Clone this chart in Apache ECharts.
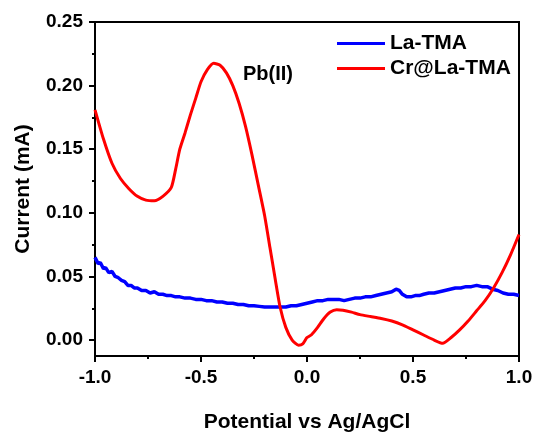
<!DOCTYPE html>
<html><head><meta charset="utf-8">
<script src="https://cdn.jsdelivr.net/npm/echarts@6/dist/echarts.min.js"></script>
<style>html,body{margin:0;padding:0;background:#fff}#c{width:534px;height:432px}</style>
</head><body><div id="c"></div>
<script>
const seriesNames = ['La-TMA', 'Cr@La-TMA'];
const yMajorTicks = [0, 0.05, 0.10, 0.15, 0.20, 0.25];
const yMinorTicks = [0.025, 0.075, 0.125, 0.175, 0.225];
const blueX = [-1.000,-0.985,-0.975,-0.960,-0.950,-0.935,-0.920,-0.905,-0.890,-0.875,-0.860,-0.845,-0.830,-0.815,-0.800,-0.780,-0.760,-0.740,-0.720,-0.700,-0.680,-0.660,-0.640,-0.620,-0.600,-0.575,-0.550,-0.525,-0.500,-0.475,-0.450,-0.425,-0.400,-0.375,-0.350,-0.325,-0.300,-0.275,-0.250,-0.225,-0.200,-0.175,-0.150,-0.125,-0.100,-0.075,-0.050,-0.025,0.000,0.025,0.050,0.075,0.100,0.125,0.150,0.175,0.200,0.225,0.250,0.275,0.300,0.325,0.350,0.375,0.400,0.420,0.435,0.450,0.470,0.490,0.510,0.530,0.550,0.575,0.600,0.625,0.650,0.675,0.700,0.725,0.750,0.775,0.800,0.825,0.850,0.875,0.900,0.925,0.950,0.975,1.000];
const blueY = [0.065,0.060,0.061,0.056,0.057,0.053,0.054,0.050,0.049,0.047,0.046,0.043,0.043,0.041,0.041,0.039,0.039,0.037,0.038,0.036,0.036,0.035,0.035,0.034,0.034,0.033,0.033,0.032,0.032,0.031,0.031,0.030,0.030,0.029,0.029,0.028,0.028,0.027,0.027,0.0265,0.026,0.026,0.026,0.026,0.026,0.027,0.027,0.028,0.029,0.030,0.031,0.031,0.032,0.032,0.032,0.031,0.032,0.033,0.033,0.034,0.034,0.035,0.036,0.037,0.038,0.040,0.039,0.036,0.034,0.034,0.035,0.035,0.036,0.037,0.037,0.038,0.039,0.040,0.041,0.041,0.042,0.042,0.043,0.042,0.042,0.040,0.039,0.037,0.036,0.036,0.035];
const redX = [-1.00,-0.96,-0.92,-0.88,-0.84,-0.80,-0.76,-0.72,-0.68,-0.64,-0.62,-0.60,-0.575,-0.55,-0.525,-0.50,-0.47,-0.44,-0.41,-0.38,-0.35,-0.32,-0.29,-0.26,-0.23,-0.20,-0.175,-0.15,-0.127,-0.10,-0.07,-0.04,-0.02,0.00,0.02,0.05,0.08,0.11,0.14,0.17,0.21,0.25,0.30,0.35,0.40,0.45,0.50,0.55,0.60,0.64,0.68,0.72,0.76,0.80,0.84,0.88,0.92,0.96,1.00];
const redY = [0.181,0.158,0.139,0.127,0.119,0.113,0.110,0.1095,0.113,0.120,0.134,0.150,0.163,0.177,0.190,0.203,0.2125,0.2175,0.216,0.210,0.200,0.186,0.168,0.146,0.122,0.098,0.073,0.048,0.026,0.010,0.000,-0.004,-0.003,0.002,0.004,0.010,0.017,0.022,0.0238,0.0235,0.022,0.020,0.0185,0.017,0.015,0.012,0.008,0.004,0.000,-0.0025,0.002,0.008,0.015,0.023,0.031,0.041,0.053,0.067,0.083];

const zip = (xs, ys) => xs.map((x, i) => [x, ys[i]]);
const font = 'Liberation Sans, Arial, sans-serif';
const chart = echarts.init(document.getElementById('c'));
chart.setOption({
  animation: false,
  backgroundColor: '#fff',
  grid: { left: 95, right: 15, top: 22, bottom: 76, outerBoundsMode: 'none', containLabel: false, show: true, borderColor: '#000', borderWidth: 2, backgroundColor: 'transparent' },
  legend: {
    orient: 'vertical', left: 337, top: 33, padding: 0, itemGap: 4, itemWidth: 48, itemHeight: 3,
    icon: 'rect', data: seriesNames,
    textStyle: { fontFamily: font, fontWeight: 'bold', fontSize: 21, color: '#000' }
  },
  xAxis: {
    type: 'value', min: -1, max: 1, interval: 0.5,
    name: 'Potential vs Ag/AgCl', nameLocation: 'middle', nameGap: 56,
    nameTextStyle: { fontFamily: font, fontWeight: 'bold', fontSize: 21, color: '#000' },
    axisLine: { onZero: false, lineStyle: { color: '#000', width: 2 } },
    axisTick: { inside: false, length: 6, lineStyle: { color: '#000', width: 2 } },
    minorTick: { show: true, splitNumber: 2, length: 3, lineStyle: { color: '#000', width: 2 } },
    axisLabel: { fontFamily: font, fontWeight: 'bold', fontSize: 19, color: '#000', margin: 12, formatter: v => v.toFixed(1) },
    splitLine: { show: false }
  },
  yAxis: [{
    type: 'value', min: -0.0125, max: 0.25,
    name: 'Current (mA)', nameLocation: 'middle', nameGap: 61,
    nameTextStyle: { fontFamily: font, fontWeight: 'bold', fontSize: 21, color: '#000' },
    axisLine: { onZero: false, lineStyle: { color: '#000', width: 2 } },
    axisTick: { inside: false, length: 6, customValues: yMajorTicks, lineStyle: { color: '#000', width: 2 } },
    axisLabel: { fontFamily: font, fontWeight: 'bold', fontSize: 19, color: '#000', margin: 12, customValues: yMajorTicks, formatter: v => v.toFixed(2) },
    splitLine: { show: false }
  }, {
    type: 'value', min: -0.0125, max: 0.25, position: 'left',
    axisLine: { show: false, onZero: false },
    axisTick: { inside: false, length: 3, customValues: yMinorTicks, lineStyle: { color: '#000', width: 2 } },
    axisLabel: { show: false },
    splitLine: { show: false }
  }],
  graphic: [{
    type: 'text', left: 243, top: 64,
    style: { text: 'Pb(II)', fontFamily: font, fontWeight: 'bold', fontSize: 20, fill: '#000' }
  }],
  series: [{
    name: seriesNames[0], type: 'line', data: zip(blueX, blueY), showSymbol: false,
    lineStyle: { color: '#0000ff', width: 3.5 }, itemStyle: { color: '#0000ff' }, z: 2
  }, {
    name: seriesNames[1], type: 'line', data: zip(redX, redY), showSymbol: false, smooth: 0.2,
    lineStyle: { color: '#ff0000', width: 3 }, itemStyle: { color: '#ff0000' }, z: 3
  }]
});
</script></body></html>
